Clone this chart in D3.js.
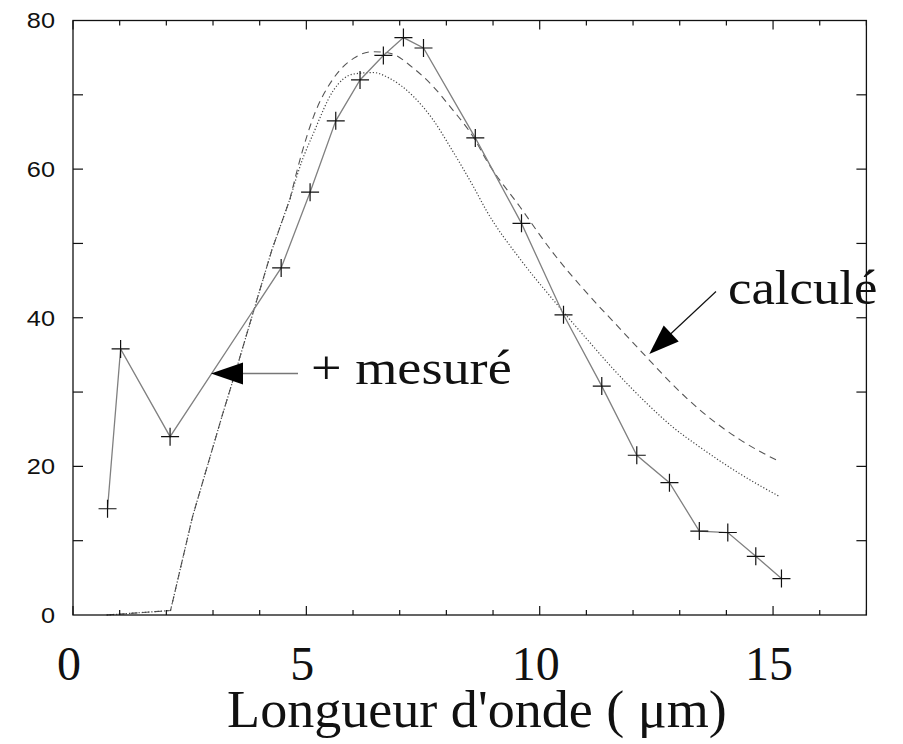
<!DOCTYPE html>
<html><head><meta charset="utf-8">
<script src="https://cdn.jsdelivr.net/npm/d3@7"></script>
<style>body{margin:0;background:#fff}</style>
</head><body>
<svg id="c" width="903" height="744"></svg>
<script>
// ---- data ----
const measuredX = [0.74, 1.02, 2.08, 4.46, 5.08, 5.63, 6.15, 6.65, 7.08, 7.51, 8.62, 9.61, 10.51, 11.33, 12.08, 12.78, 13.42, 14.03, 14.63, 15.18];
const measuredY = [14.3, 35.8, 24.0, 46.7, 56.9, 66.5, 72.0, 75.3, 77.7, 76.3, 64.2, 52.7, 40.4, 30.8, 21.5, 17.8, 11.3, 11.1, 7.9, 4.9];
const calcX       = [0.72, 2.09, 2.56, 3.19, 3.52, 3.94, 4.26, 4.65, 4.90, 5.15, 5.58, 6.01, 6.43, 6.79, 7.29, 7.72, 8.08, 8.61, 8.86, 9.58, 10.29, 11.0, 11.65, 12.29, 12.85, 13.43, 14.29, 15.15];
const calcDashedY = [0, 0.6, 13.2, 26.7, 33.5, 42.4, 49.1, 56.0, 62.1, 67.0, 72.2, 74.9, 75.8, 75.6, 73.6, 71.1, 68.4, 64.0, 61.2, 54.9, 48.7, 43.4, 39.0, 34.7, 31.0, 27.6, 23.6, 20.6];
const calcDottedY = [0, 0.6, 13.2, 26.7, 33.5, 42.4, 49.1, 56.0, 61.0, 64.8, 70.6, 72.8, 73.0, 72.2, 69.8, 66.6, 63.0, 57.3, 54.4, 47.9, 42.4, 37.2, 32.6, 28.5, 25.3, 22.6, 19.0, 15.9];
const xTickLabels = [0, 5, 10, 15];
const yTickLabels = [0, 20, 40, 60, 80];
const xTitle = "Longueur d'onde ( μm)";
const labelMeasured = "+ mesuré";
const labelCalc = "calculé";

// ---- layout ----
const svg = d3.select("#c");
const L = 73, R = 866.4, T = 20.5, B = 615;
const x = d3.scaleLinear().domain([0, 17]).range([L, R]);
const y = d3.scaleLinear().domain([0, 80]).range([B, T]);

// calculated curves: straight rising part, smooth beyond the 8th sample
const line = d3.line().x(d => x(d[0])).y(d => y(d[1]));
const smooth = d3.line().x(d => x(d[0])).y(d => y(d[1])).curve(d3.curveMonotoneX);
const SPLIT = 7;
function calcPath(ys) {
  const pts = d3.zip(calcX, ys);
  const a = line(pts.slice(0, SPLIT + 1));
  const b = smooth(pts.slice(SPLIT));
  return a + b.slice(b.search(/[CL]/));
}
svg.append("path").attr("d", calcPath(calcDashedY))
  .attr("fill", "none").attr("stroke", "#555").attr("stroke-width", 1.1)
  .attr("stroke-dasharray", "7,5");
svg.append("path").attr("d", calcPath(calcDottedY))
  .attr("fill", "none").attr("stroke", "#444").attr("stroke-width", 1.2)
  .attr("stroke-dasharray", "1.2,2");

// measured
const meas = d3.zip(measuredX, measuredY);
svg.append("path").datum(meas).attr("d", line)
  .attr("fill", "none").attr("stroke", "#808080").attr("stroke-width", 1.3);
svg.append("g").selectAll("path").data(meas).join("path")
  .attr("d", d => `M${x(d[0]) - 9},${y(d[1])}h18M${x(d[0])},${y(d[1]) - 9}v18`)
  .attr("stroke", "#111").attr("stroke-width", 1.2).attr("fill", "none");

// frame + ticks
svg.append("rect").attr("x", L).attr("y", T).attr("width", R - L).attr("height", B - T)
  .attr("fill", "none").attr("stroke", "#111").attr("stroke-width", 1.3);
const gx = svg.append("g").attr("stroke", "#111").attr("stroke-width", 1.2);
d3.range(0, 18, 1).forEach(v => {
  const len = v % 5 === 0 ? 9 : 5;
  gx.append("line").attr("x1", x(v)).attr("x2", x(v)).attr("y1", B).attr("y2", B - len);
  gx.append("line").attr("x1", x(v)).attr("x2", x(v)).attr("y1", T).attr("y2", T + len);
});
d3.range(10, 80, 10).forEach(v => {
  gx.append("line").attr("x1", L).attr("x2", L + 10).attr("y1", y(v)).attr("y2", y(v));
  gx.append("line").attr("x1", R).attr("x2", R - 10).attr("y1", y(v)).attr("y2", y(v));
});

// y labels
svg.append("g").selectAll("text").data(yTickLabels).join("text")
  .attr("transform", d => `translate(55,${y(d)}) scale(1.15,1)`)
  .attr("text-anchor", "end").attr("dy", "0.36em")
  .attr("font-family", "Liberation Sans, Arial, sans-serif").attr("font-size", 22)
  .attr("fill", "#111").text(d => d);

// x labels
svg.append("g").selectAll("text").data(xTickLabels).join("text")
  .attr("x", d => x(d) - 4).attr("y", 680)
  .attr("text-anchor", "middle")
  .attr("font-family", "Liberation Serif, Times New Roman, serif").attr("font-size", 48)
  .attr("fill", "#111").text(d => d);
svg.append("text").attr("transform", "translate(477,727) scale(1.04,1)").attr("text-anchor", "middle")
  .attr("font-family", "Liberation Serif, Times New Roman, serif").attr("font-size", 52)
  .attr("fill", "#111").text(xTitle);

// annotations
svg.append("line").attr("x1", 242).attr("x2", 298).attr("y1", 373.5).attr("y2", 373.5)
  .attr("stroke", "#777").attr("stroke-width", 1.6);
svg.append("path").attr("d", "M211,373.5L243,362.5L243,384.5Z").attr("fill", "#000");
svg.append("text").attr("transform", "translate(311,383.5) scale(1.13,1)")
  .attr("font-family", "Liberation Serif, Times New Roman, serif").attr("font-size", 48)
  .attr("fill", "#111").text(labelMeasured);

svg.append("line").attr("x1", 716).attr("y1", 291.5).attr("x2", 670).attr("y2", 334.5)
  .attr("stroke", "#111").attr("stroke-width", 1.2);
svg.append("path").attr("d", "M649.3,354L678.7,341.6L663.7,325.6Z").attr("fill", "#000");
svg.append("text").attr("transform", "translate(728,303.5) scale(1.1,1)")
  .attr("font-family", "Liberation Serif, Times New Roman, serif").attr("font-size", 48)
  .attr("fill", "#111").text(labelCalc);
</script>
</body></html>
